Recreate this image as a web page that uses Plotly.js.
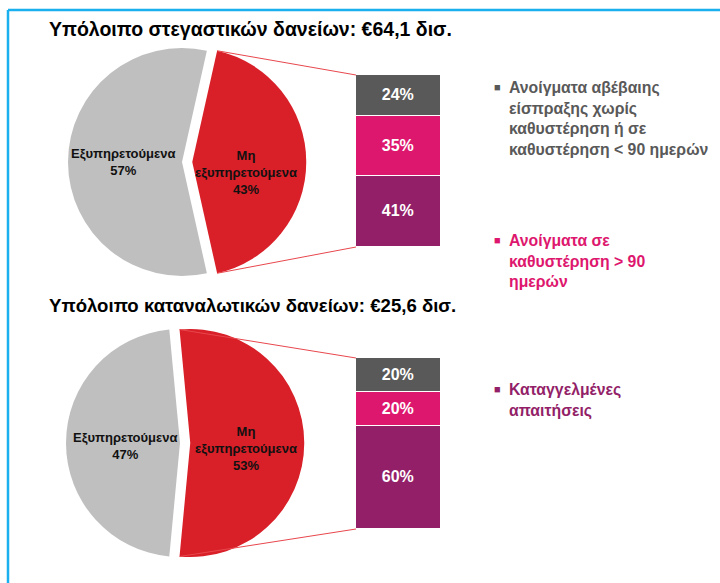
<!DOCTYPE html>
<html><head><meta charset="utf-8">
<script src="https://cdn.plot.ly/plotly-3.0.1.min.js"></script>
<style>html,body{margin:0;padding:0;background:#fff}</style>
</head><body><div id="chart" style="width:720px;height:583px"></div>
<script>
// ---------- DATA ----------
const pieLabels = ["Μη<br>εξυπηρετούμενα", "Εξυπηρετούμενα"];
const housingPieValues = [43, 57];
const consumerPieValues = [53, 47];
const barSegments = ["Καταγγελμένες απαιτήσεις", "Ανοίγματα σε καθυστέρηση > 90 ημερών", "Ανοίγματα αβέβαιης είσπραξης χωρίς καθυστέρηση ή σε καθυστέρηση < 90 ημερών"]; // bottom -> top
const housingBarValues = [41, 35, 24];
const consumerBarValues = [60, 20, 20];
const titles = ["Υπόλοιπο στεγαστικών δανείων: €64,1 δισ.", "Υπόλοιπο καταναλωτικών δανείων: €25,6 δισ."];
const legendLines = [
  "Ανοίγματα αβέβαιης<br>είσπραξης χωρίς<br>καθυστέρηση ή σε<br>καθυστέρηση < 90 ημερών",
  "Ανοίγματα σε<br>καθυστέρηση > 90<br>ημερών",
  "Καταγγελμένες<br>απαιτήσεις"
];

// ---------- STYLE ----------
const W = 720, H = 583;
const FONT = "Liberation Sans, Arial, sans-serif";
const pieColors = ["#D91F28", "#BFBFBF"];
const barColors = ["#931F68", "#DE176E", "#595959"]; // bottom -> top
const legendColors = ["#595959", "#DE176E", "#931F68"];
const PULL = 0.09, R = 114;
const px = x => x / W, py = y => 1 - y / H;

const pies = [
  {values: housingPieValues, cx: 182, cy: 162, bar: {x0: 356, x1: 441, top: 75, bottom: 247}, bars: housingBarValues,
   grayLbl: [123, 162], redLbl: [246, 172], title: 29, titleSize: 19.5},
  {values: consumerPieValues, cx: 180, cy: 443, bar: {x0: 356, x1: 441, top: 358, bottom: 529}, bars: consumerBarValues,
   grayLbl: [125, 446], redLbl: [246, 448], title: 305, titleSize: 18.6}
];

const data = [], shapes = [], annotations = [];
const layout = {width: W, height: H, margin: {l: 0, r: 0, t: 0, b: 0}, showlegend: false,
  paper_bgcolor: "#fff", plot_bgcolor: "rgba(0,0,0,0)", barmode: "stack", bargap: 0,
  font: {family: FONT}};

pies.forEach((p, i) => {
  const half = R * (1 + PULL);
  const redShare = p.values[0] / (p.values[0] + p.values[1]);
  const rotation = 90 - redShare * 180;
  data.push({
    type: "pie", values: p.values, labels: pieLabels, sort: false, direction: "clockwise",
    rotation: rotation, pull: [PULL, 0], textinfo: "none", hoverinfo: "label+percent",
    marker: {colors: pieColors, line: {width: 0}},
    domain: {x: [px(p.cx - half), px(p.cx + half)], y: [py(p.cy + half), py(p.cy - half)]}
  });
  // stacked bar
  const xa = i === 0 ? "x" : "x2", ya = i === 0 ? "y" : "y2";
  p.bars.forEach((v, k) => {
    data.push({type: "bar", x: [0], y: [v], name: barSegments[k], xaxis: xa, yaxis: ya, width: 1,
      marker: {color: barColors[k], line: {color: "#fff", width: 1.5}},
      text: [v + "%"], textposition: "inside", insidetextanchor: "middle", constraintext: "none",
      textfont: {color: "#fff", size: 16, family: FONT, weight: "bold"}, hoverinfo: "y"});
  });
  const axKey = i === 0 ? "" : "2";
  layout["xaxis" + axKey] = {domain: [px(p.bar.x0), px(p.bar.x1)], range: [-0.5, 0.5], visible: false, fixedrange: true, anchor: "y" + axKey};
  layout["yaxis" + axKey] = {domain: [py(p.bar.bottom), py(p.bar.top)], range: [0, 100], visible: false, fixedrange: true, anchor: "x" + axKey};

  // connector lines from red slice edges to bar
  const rcx = p.cx + PULL * R;
  const a0 = rotation * Math.PI / 180, a1 = (rotation + redShare * 360) * Math.PI / 180;
  const topPt = [rcx + R * Math.sin(a0), p.cy - R * Math.cos(a0)];
  const botPt = [rcx + R * Math.sin(a1), p.cy - R * Math.cos(a1)];
  [[topPt, p.bar.top], [botPt, p.bar.bottom]].forEach(([pt, by]) => {
    shapes.push({type: "line", xref: "paper", yref: "paper", x0: px(pt[0]), y0: py(pt[1]), x1: px(p.bar.x0), y1: py(by),
      line: {color: "#E8474D", width: 1}});
  });

  // slice labels
  annotations.push({xref: "paper", yref: "paper", x: px(p.grayLbl[0]), y: py(p.grayLbl[1]), xanchor: "center", yanchor: "middle",
    showarrow: false, text: pieLabels[1] + "<br>" + p.values[1] + "%", font: {size: 13, color: "#111", family: FONT, weight: "bold"}});
  annotations.push({xref: "paper", yref: "paper", x: px(p.redLbl[0]), y: py(p.redLbl[1]), xanchor: "center", yanchor: "middle",
    showarrow: false, text: pieLabels[0] + "<br>" + p.values[0] + "%", font: {size: 13, color: "#111", family: FONT, weight: "bold"}});
  // title
  annotations.push({xref: "paper", yref: "paper", x: px(47), y: py(p.title), xanchor: "left", yanchor: "middle",
    showarrow: false, text: titles[i], font: {size: p.titleSize, color: "#000", family: FONT, weight: "bold"}});
});

// legend (custom text entries)
const legendPos = [[507, 87], [507, 240], [507, 389]];
legendLines.forEach((t, k) => {
  annotations.push({xref: "paper", yref: "paper", x: px(497), y: py(legendPos[k][1]), xanchor: "center", yanchor: "middle",
    showarrow: false, text: "■", font: {size: 11, color: legendColors[k], family: FONT}});
  annotations.push({xref: "paper", yref: "paper", x: px(legendPos[k][0]), y: py(legendPos[k][1] - 10), xanchor: "left", yanchor: "top",
    align: "left", showarrow: false, text: t, font: {size: 15.8, color: legendColors[k], family: FONT, weight: "bold"}});
});

// frame
shapes.push({type: "line", xref: "paper", yref: "paper", x0: px(8), y0: py(10), x1: 1, y1: py(10), line: {color: "#1AAFEF", width: 2.5}});
shapes.push({type: "line", xref: "paper", yref: "paper", x0: px(8), y0: py(10), x1: px(8), y1: 0, line: {color: "#1AAFEF", width: 2.5}});

layout.shapes = shapes;
layout.annotations = annotations;
Plotly.newPlot("chart", data, layout, {displayModeBar: false, staticPlot: false});
</script></body></html>
